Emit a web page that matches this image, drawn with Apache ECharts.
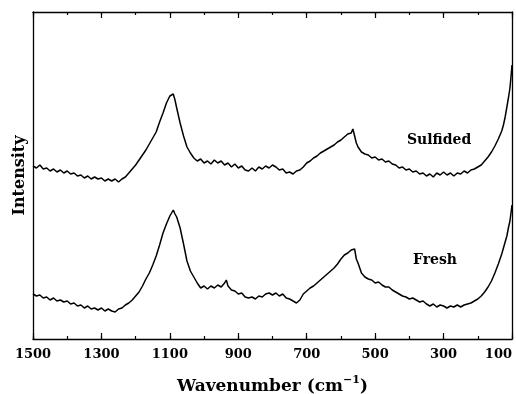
<!DOCTYPE html>
<html>
<head>
<meta charset="utf-8">
<script src="https://cdn.jsdelivr.net/npm/echarts@6/dist/echarts.min.js"></script>
<style>html,body{margin:0;padding:0;background:#fff}#c{width:516px;height:394px}</style>
</head>
<body>
<div id="c"></div>
<script>
// Wavenumber (cm^-1), intensity (arbitrary units)
const sulfidedWave = [1500,1490,1480,1470,1460,1450,1440,1430,1420,1410,1400,1390,1380,1370,1360,1350,1340,1330,1320,1310,1300,1290,1280,1270,1260,1250,1240,1230,1220,1210,1200,1190,1180,1170,1160,1150,1140,1130,1120,1110,1100,1095,1090,1085,1080,1070,1060,1050,1040,1030,1020,1010,1000,990,980,970,960,950,940,930,920,910,900,890,880,870,860,850,840,830,820,810,800,790,780,770,760,750,740,730,720,710,700,690,680,670,660,650,640,630,620,610,600,590,580,570,565,560,555,550,540,530,520,510,500,490,480,470,460,450,440,430,420,410,400,390,380,370,360,350,340,330,320,310,300,290,280,270,260,250,240,230,220,210,200,190,180,170,160,150,140,130,125,120,115,110,106,103,100];
const sulfidedInt = [173,171,174,170,171,168,170,167,169,166,168,165,166,163,164,161,163,160,162,160,161,158,160,158,160,157,160,162,166,170,174,179,184,189,195,201,207,217,226,236,243,241,245,239,231,216,203,192,186,181,178,180,176,178,175,179,176,178,174,176,172,175,171,173,169,168,171,168,172,170,173,171,174,172,169,170,166,167,165,168,169,172,176,178,181,183,186,188,190,192,194,197,199,202,205,206,210,208,196,192,187,185,184,181,182,179,180,177,178,175,174,171,172,169,170,167,168,165,166,163,165,162,166,164,167,164,166,163,166,165,168,166,169,170,172,174,178,182,187,193,200,208,214,222,232,242,251,262,274];

const freshWave = [1500,1490,1480,1470,1460,1450,1440,1430,1420,1410,1400,1390,1380,1370,1360,1350,1340,1330,1320,1310,1300,1290,1280,1270,1260,1250,1240,1230,1220,1210,1200,1190,1180,1170,1160,1150,1140,1130,1120,1110,1100,1095,1090,1085,1080,1070,1060,1050,1040,1030,1020,1010,1000,990,980,970,960,950,940,935,930,920,910,900,890,880,870,860,850,840,830,820,810,800,790,780,770,760,750,740,730,720,710,700,690,680,670,660,650,640,630,620,610,600,590,580,570,565,560,555,550,540,530,520,510,500,490,480,470,460,450,440,430,420,410,400,390,380,370,360,350,340,330,320,310,300,290,280,270,260,250,240,230,220,210,200,190,180,170,160,150,140,130,120,115,110,106,103,100];
const freshInt = [45,43,44,41,42,39,41,38,39,37,38,35,36,33,34,31,33,30,31,29,31,28,30,28,27,30,31,34,36,39,43,47,53,60,66,74,83,94,106,115,123,126,129,125,122,111,95,78,68,62,56,51,53,50,53,51,54,52,56,59,53,49,48,45,46,42,41,42,40,43,42,45,46,44,46,43,45,41,40,38,36,39,45,48,51,53,56,59,62,65,68,71,75,80,84,86,89,88,90,80,76,66,62,60,59,56,57,54,52,52,49,47,45,43,42,40,41,39,37,38,35,33,35,32,34,33,31,33,32,34,32,34,35,36,38,40,43,47,52,58,66,75,85,97,103,112,118,126,134];

const xTicks = [1500,1300,1100,900,700,500,300,100];
const seriesNames = ['Sulfided','Fresh'];

const pair = (w, v) => w.map((x, i) => [x, v[i]]);
const font = 'DejaVu Serif';
const black = {color: '#000', width: 1.3};

const chart = echarts.init(document.getElementById('c'));

// thin grids along the frame edges; their axes' split lines act as the inward tick marks
const strip = (top, height) => ({left: 33, right: 4, top: top, height: height, outerBoundsMode: 'none', containLabel: false});
const stripX = (gridIndex, interval) => ({
  type: 'value', gridIndex: gridIndex, min: 100, max: 1500, interval: interval, inverse: true,
  axisLine: {show: false}, axisTick: {show: false}, axisLabel: {show: false},
  splitLine: {show: true, lineStyle: {color: '#000', width: 1.2}}
});
const stripY = gridIndex => ({type: 'value', gridIndex: gridIndex, show: false, min: 0, max: 1});

chart.setOption({
  grid: [
    {left: 33, right: 4, top: 12, bottom: 55, outerBoundsMode: 'none', containLabel: false},
    strip(333, 6), strip(336, 3), strip(12, 6), strip(12, 3)
  ],
  xAxis: [
    {
      type: 'value', gridIndex: 0, min: 100, max: 1500, interval: 200, inverse: true, position: 'bottom',
      axisLine: {show: true, onZero: false, lineStyle: black},
      axisTick: {show: false}, minorTick: {show: false},
      splitLine: {show: false},
      axisLabel: {show: true, color: '#000', fontFamily: font, fontWeight: 'bold', fontSize: 13, margin: 9,
        alignMinLabel: 'right', formatter: v => xTicks.includes(v) ? String(v) : ''},
      name: '{a|Wavenumber (cm}{s|−1}{a|)}',
      nameLocation: 'middle', nameGap: 36,
      nameTextStyle: {
        rich: {
          a: {fontFamily: font, fontWeight: 'bold', fontSize: 17, color: '#000'},
          s: {fontFamily: font, fontWeight: 'bold', fontSize: 11, color: '#000', padding: [0, 0, 12, 0]}
        }
      }
    },
    {
      type: 'value', gridIndex: 0, min: 100, max: 1500, interval: 200, inverse: true, position: 'top',
      axisLine: {show: true, onZero: false, lineStyle: black},
      axisTick: {show: false}, axisLabel: {show: false}, splitLine: {show: false}
    },
    stripX(1, 200), stripX(2, 100), stripX(3, 200), stripX(4, 100)
  ],
  yAxis: [
    {
      type: 'value', gridIndex: 0, min: 0, max: 327, position: 'left',
      axisLine: {show: true, onZero: false, lineStyle: black},
      axisTick: {show: false}, axisLabel: {show: false}, splitLine: {show: false},
      name: 'Intensity', nameLocation: 'middle', nameGap: 5,
      nameTextStyle: {fontFamily: font, fontWeight: 'bold', fontSize: 16, color: '#000'}
    },
    {
      type: 'value', gridIndex: 0, min: 0, max: 327, position: 'right',
      axisLine: {show: true, onZero: false, lineStyle: black},
      axisTick: {show: false}, axisLabel: {show: false}, splitLine: {show: false}
    },
    stripY(1), stripY(2), stripY(3), stripY(4)
  ],
  graphic: [
    {type: 'text', left: 407, top: 133, style: {text: seriesNames[0], font: 'bold 14px "DejaVu Serif"', fill: '#000'}},
    {type: 'text', left: 413, top: 253, style: {text: seriesNames[1], font: 'bold 14px "DejaVu Serif"', fill: '#000'}}
  ],
  series: [
    {name: seriesNames[0], type: 'line', xAxisIndex: 0, yAxisIndex: 0, data: pair(sulfidedWave, sulfidedInt), showSymbol: false, symbol: 'none',
      lineStyle: {color: '#000', width: 1.5}, clip: true},
    {name: seriesNames[1], type: 'line', xAxisIndex: 0, yAxisIndex: 0, data: pair(freshWave, freshInt), showSymbol: false, symbol: 'none',
      lineStyle: {color: '#000', width: 1.5}, clip: true}
  ]
});
</script>
</body>
</html>
